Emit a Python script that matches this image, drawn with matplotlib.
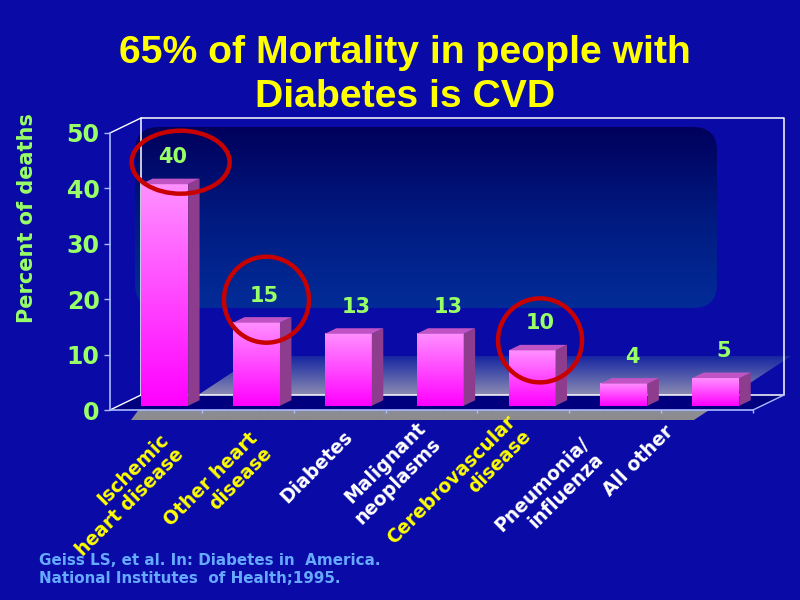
import numpy as np
import matplotlib
matplotlib.use("Agg")
import matplotlib.pyplot as plt
from matplotlib.patches import Polygon, FancyBboxPatch, Ellipse
import matplotlib.transforms as mtrans
from matplotlib.colors import LinearSegmentedColormap

# ---------------- data ----------------
categories = ["Ischemic\nheart disease", "Other heart\ndisease", "Diabetes",
              "Malignant\nneoplasms", "Cerebrovascular\ndisease",
              "Pneumonia/\ninfluenza", "All other"]
percent_of_deaths = [40, 15, 13, 13, 10, 4, 5]
is_cvd = [True, True, False, False, True, False, False]
y_ticks = [0, 10, 20, 30, 40, 50]
title_lines = ["65% of Mortality in people with", "Diabetes is CVD"]
y_label = "Percent of deaths"
source_lines = ["Geiss LS, et al. In: Diabetes in  America.",
                "National Institutes  of Health;1995."]

# ---------------- style / layout ----------------
BG = "#0A0AA6"
GREEN = "#99FF66"
YELLOW = "#FFFF00"
AXIS = "#A9BCFF"
RED = "#C80000"
SOURCE = "#66AAFF"
W, H, DPI = 800, 600, 100
# label anchor offsets (px) from category centre on the front axis
label_dx = [3, 0, 3, -16, -17, -36, -43]
label_dy = [20, 19, 17, 9, 2, 24, 12]
# highlight ellipses (px): offset from bar top and size
ell_off = [(16, 22), (10, 23), (8, 10)]
ell_size = [(98, 63), (85, 86), (84, 84)]

fig = plt.figure(figsize=(W / DPI, H / DPI), dpi=DPI, facecolor=BG)

# ---- decorative background layer in pixel coordinates ----
bg = fig.add_axes([0, 0, 1, 1], zorder=0)
bg.axis("off")
grad = np.linspace(0, 1, 256).reshape(-1, 1)

panel = FancyBboxPatch((135, 127), 582, 181, boxstyle="round,pad=0,rounding_size=24",
                       lw=0, fc="none")
bg.add_patch(panel)
cm_panel = LinearSegmentedColormap.from_list("panel", ["#00005C", "#001A80", "#032C98"])
im = bg.imshow(grad, extent=[135, 717, 308, 127], cmap=cm_panel, aspect="auto",
               interpolation="bilinear")
im.set_clip_path(panel)

floor = Polygon([(131, 420), (694, 420), (791, 356), (257, 356), (198, 395), (140, 408)],
                closed=True, lw=0, fc="none")
bg.add_patch(floor)
cm_floor = LinearSegmentedColormap.from_list(
    "floor", [(0, "#1626A2"), (0.6, "#8A8AB2"), (0.8, "#8C8C9E"), (1, "#8C8C8C")])
im2 = bg.imshow(grad, extent=[131, 791, 420, 356], cmap=cm_floor, aspect="auto",
                interpolation="bilinear")
im2.set_clip_path(floor)
bg.set_xlim(0, W)
bg.set_ylim(H, 0)

# ---- main chart axes ----
L, B, AW, AH = 110, 410, 643, 277
ax = fig.add_axes([L / W, (H - B) / H, AW / W, AH / H], zorder=1)
ax.patch.set_visible(False)
n = len(categories)
ymax = y_ticks[-1]
pxx, pxy = AW / n, AH / ymax
DX, DY = 31 / pxx, 15 / pxy          # full depth in data units
F0, F1 = 0.28, 0.65                  # front / back depth of bars
bw = 47 / pxx

# floor band and frame
ax.add_patch(Polygon([(0, 0), (n, 0), (n + DX, DY), (DX, DY)], closed=True,
                     fc="#00007E", lw=0, zorder=1, clip_on=False))
ax.plot([DX, DX, n + DX, n + DX, DX], [DY, ymax + DY, ymax + DY, DY, DY],
        color="white", lw=1.1, zorder=1.5, clip_on=False)
ax.plot([0, DX], [ymax, ymax + DY], color="white", lw=1.0, zorder=1.5, clip_on=False)
ax.plot([0, DX], [0, DY], color="white", lw=1.0, zorder=1.5, clip_on=False)
ax.plot([n, n + DX], [0, DY], color=AXIS, lw=1.0, zorder=1.5, clip_on=False)

cm_bar = LinearSegmentedColormap.from_list("bar", ["#FF90FF", "#FF00FF"])
ddx, ddy = (F1 - F0) * DX, (F1 - F0) * DY
for i, v in enumerate(percent_of_deaths):
    xf0 = i + 0.5 - bw / 2 + F0 * DX
    xf1 = xf0 + bw
    yb = F0 * DY
    yt = v + F0 * DY
    z = 3 + i * 0.01
    ax.imshow(grad, extent=[xf0, xf1, yb, yt], cmap=cm_bar, aspect="auto",
              interpolation="bilinear", zorder=z, clip_on=False)
    ax.add_patch(Polygon([(xf1, yb), (xf1 + ddx, yb + ddy), (xf1 + ddx, yt + ddy), (xf1, yt)],
                         closed=True, fc="#8E3C8E", lw=0, zorder=z, clip_on=False))
    ax.add_patch(Polygon([(xf0, yt), (xf1, yt), (xf1 + ddx, yt + ddy), (xf0 + ddx, yt + ddy)],
                         closed=True, fc="#C054C4", lw=0, zorder=z, clip_on=False))
    xc = i + 0.5 + F0 * DX
    ax.annotate(str(v), xy=(xc, yt), xytext=(8 * 72 / DPI, 27 * 72 / DPI),
                textcoords="offset points", ha="center", va="center", color=GREEN,
                fontsize=15, fontweight="bold", zorder=5, annotation_clip=False)

k = 0
for i, v in enumerate(percent_of_deaths):
    if not is_cvd[i]:
        continue
    xc = i + 0.5 + F0 * DX
    yt = v + F0 * DY
    tr = fig.dpi_scale_trans + mtrans.ScaledTranslation(xc, yt, ax.transData)
    ox, oy = ell_off[k]
    ew, eh = ell_size[k]
    ax.add_patch(Ellipse((ox / DPI, oy / DPI), ew / DPI, eh / DPI, transform=tr,
                         fc="none", ec=RED, lw=3.2, zorder=6, clip_on=False))
    k += 1

# category labels
for i, lab in enumerate(categories):
    tr = ax.transData + mtrans.ScaledTranslation(label_dx[i] / DPI, -label_dy[i] / DPI,
                                                 fig.dpi_scale_trans)
    ax.text(i + 0.5, 0, lab, transform=tr, rotation=45, rotation_mode="anchor",
            ha="right", va="top", multialignment="right", fontsize=13.5,
            fontweight="bold", color=YELLOW if is_cvd[i] else "white",
            linespacing=1.15, clip_on=False)

# axes styling
ax.set_xlim(0, n)
ax.set_ylim(0, ymax)
ax.set_yticks(y_ticks)
ax.set_yticklabels([str(t) for t in y_ticks], color=GREEN, fontsize=17, fontweight="bold")
ax.set_xticks(range(1, n + 1))
ax.set_xticklabels([])
ax.tick_params(axis="y", length=4.5, width=1, color=AXIS, pad=3)
ax.tick_params(axis="x", length=2.5, width=1, color=AXIS, direction="out")
for s in ["top", "right"]:
    ax.spines[s].set_visible(False)
for s in ["left", "bottom"]:
    ax.spines[s].set_color(AXIS)
    ax.spines[s].set_linewidth(1.2)
ax.set_ylabel(y_label, color=GREEN, fontsize=15, fontweight="bold", labelpad=0)
ax.yaxis.set_label_coords(-(L - 37) / AW, 0.5 + ((B - AH / 2) - 218) / AH)

# title
def fit_width(t, target):
    w = t.get_window_extent(fig.canvas.get_renderer()).width
    t.set_fontsize(t.get_fontsize() * target / w)

tfam = ["Liberation Sans", "DejaVu Sans"]
t1 = bg.text(405, 63, title_lines[0], ha="center", va="baseline", color=YELLOW,
             fontsize=28, fontweight="bold", family=tfam)
fit_width(t1, 572)
bg.text(405, 107, title_lines[1], ha="center", va="baseline", color=YELLOW,
        fontsize=t1.get_fontsize(), fontweight="bold", family=tfam)

s1 = bg.text(39, 565, source_lines[0], ha="left", va="baseline", color=SOURCE,
             fontsize=11, fontweight="bold")
fit_width(s1, 341)
bg.text(39, 583, source_lines[1], ha="left", va="baseline", color=SOURCE,
        fontsize=s1.get_fontsize(), fontweight="bold")

fig.savefig("out.png", dpi=DPI, facecolor=BG)
